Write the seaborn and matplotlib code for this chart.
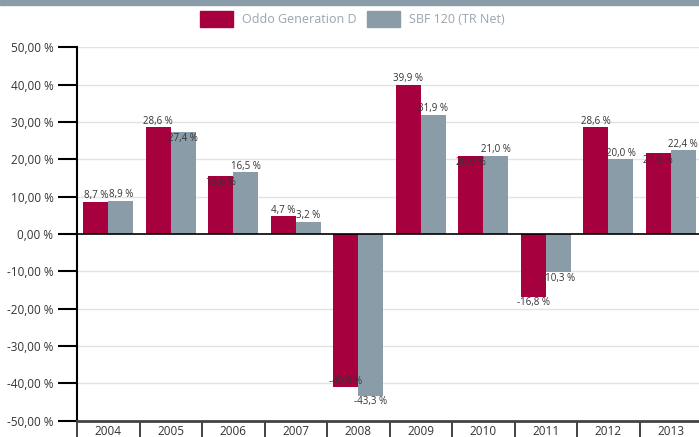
import matplotlib
matplotlib.use("Agg")
import matplotlib.pyplot as plt
import matplotlib.patches as mpatches
import seaborn as sns
import pandas as pd
import numpy as np

years = ["2004", "2005", "2006", "2007", "2008", "2009", "2010", "2011", "2012", "2013"]
series_names = ["Oddo Generation D", "SBF 120 (TR Net)"]
oddo = [8.7, 28.6, 15.6, 4.7, -40.9, 39.9, 20.9, -16.8, 28.6, 21.6]
sbf = [8.9, 27.4, 16.5, 3.2, -43.3, 31.9, 21.0, -10.3, 20.0, 22.4]
yticks = [-50, -40, -30, -20, -10, 0, 10, 20, 30, 40, 50]

RED = "#A6003E"
GRAY = "#8B9CA9"

sns.set_theme(style="white")
plt.rcParams["font.family"] = ["Open Sans", "DejaVu Sans"]

df = pd.DataFrame({
    "year": years * 2,
    "value": oddo + sbf,
    "series": [series_names[0]] * len(years) + [series_names[1]] * len(years),
})

W, H = 699, 437
fig = plt.figure(figsize=(W / 100, H / 100), dpi=100)
ax = fig.add_axes([77 / W, 1 - 420.5 / H, 625 / W, (420.5 - 47.5) / H])

sns.barplot(data=df, x="year", y="value", hue="series", order=years,
            hue_order=series_names, palette=[RED, GRAY], width=0.8,
            linewidth=0, saturation=1, ax=ax, legend=False)

ax.set_ylim(-50, 50)
ax.set_xlim(-0.5, len(years) - 0.5)
ax.set_xlabel("")
ax.set_ylabel("")

# grid
for v in yticks:
    if v not in (0, -50):
        ax.axhline(v, color="#e3e3e3", lw=1, zorder=0)
ax.axhline(0, color="black", lw=1.2, zorder=3)

# y axis
ax.set_yticks(yticks)
ax.set_yticklabels([f"{v},00 %" for v in yticks], fontsize=8.5, color="#333333")
ax.tick_params(axis="y", direction="out", length=14, width=1.5, color="black", pad=3, left=True)

# x axis: separators as major ticks, labels on minor
ax.set_xticks(np.arange(-0.5, len(years), 1.0))
ax.set_xticklabels([])
ax.set_xticks(np.arange(len(years)), minor=True)
ax.set_xticklabels(years, minor=True, fontsize=8.5, color="#333333")
ax.tick_params(axis="x", which="major", direction="out", length=20, width=1.2, color="#222222", bottom=True)
ax.tick_params(axis="x", which="minor", length=0, pad=3)

for s in ["top", "right"]:
    ax.spines[s].set_visible(False)
ax.spines["left"].set_color("black")
ax.spines["left"].set_linewidth(1.5)
ax.spines["bottom"].set_color("#444444")
ax.spines["bottom"].set_linewidth(2)

# data labels
fig.canvas.draw()
renderer = fig.canvas.get_renderer()
bars = [p for p in ax.patches if isinstance(p, mpatches.Rectangle) and p.get_width() > 0]
bars = sorted(bars, key=lambda p: p.get_x())

texts = []
for p in bars:
    v = p.get_height()
    cx = p.get_x() + p.get_width() / 2
    lab = f"{abs(v):.1f}".replace(".", ",") + " %"
    if v < 0:
        lab = "-" + lab
    off = 4.5 if v >= 0 else -4.5
    t = ax.annotate(lab, (cx, v), xytext=(0, off), textcoords="offset points",
                    ha="center", va="center", fontsize=7, color="#333333", zorder=5,
                    annotation_clip=False)
    texts.append((t, v))

fig.canvas.draw()
for i in range(0, len(texts) - 1, 2):
    (t1, v1), (t2, v2) = texts[i], texts[i + 1]
    b1 = t1.get_window_extent(renderer)
    b2 = t2.get_window_extent(renderer)
    if b1.overlaps(b2):
        # shift smaller-magnitude label inward
        t, v = (t1, v1) if abs(v1) < abs(v2) else (t2, v2)
        t.set_position((0, -5 if v >= 0 else 4))

# legend
handles = [mpatches.FancyBboxPatch((0, 0), 1, 1, boxstyle="round,pad=0.05", color=c) for c in (RED, GRAY)]
leg = fig.legend(handles, series_names, loc="center", bbox_to_anchor=(0.504, 1 - 19 / H), ncol=2,
                 frameon=False, fontsize=9, handlelength=2.6, handleheight=1.6,
                 columnspacing=0.9, handletextpad=0.7)
for txt in leg.get_texts():
    txt.set_color("#9aa5b0")

# top band
fig.patches.append(mpatches.Rectangle((0, 1 - 5 / H), 1, 5 / H, transform=fig.transFigure,
                                      color=GRAY, zorder=0))

fig.savefig("out.png", dpi=100)
